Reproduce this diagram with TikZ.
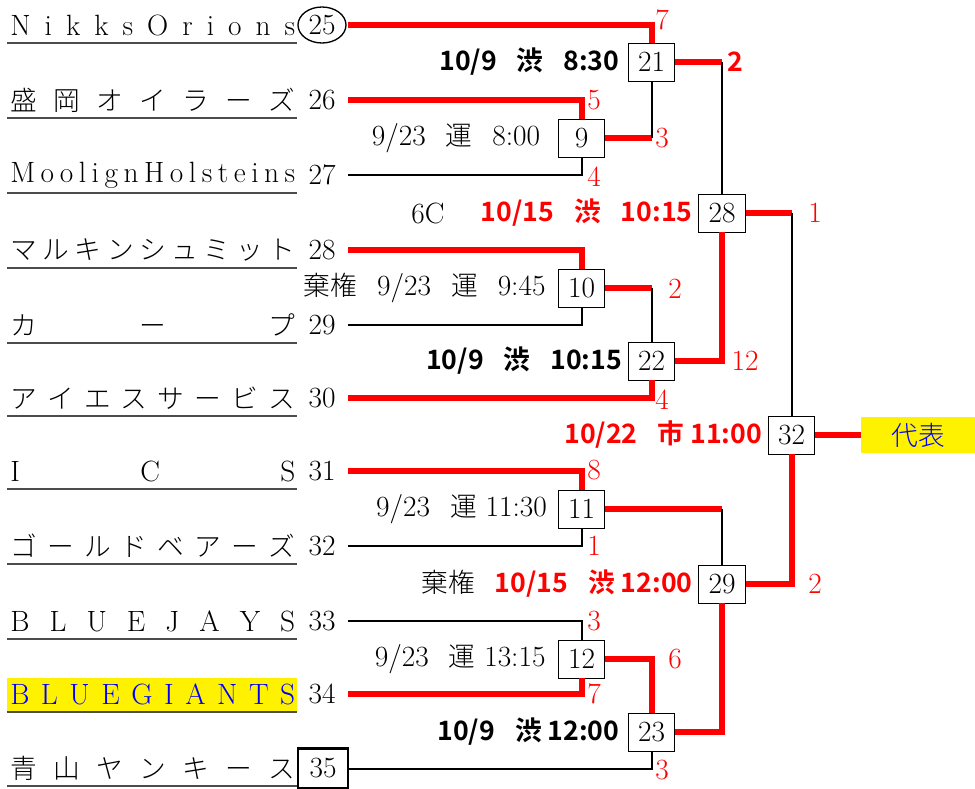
\documentclass[tikz,border=0pt]{standalone}
\usepackage{fontspec}
\newfontfamily\jp{Noto Sans CJK JP}[UprightFont={* Light},BoldFont={* Bold},Scale=0.91]
\usetikzlibrary{positioning}
% letters of a name spread over the whole width
\def\spreadchars#1{\spreadA#1\endspread}
\def\spreadA#1#2\endspread{#1\ifx\relax#2\relax\else\hfill\spreadA#2\endspread\fi}
\newcommand{\gap}{\hspace{15pt}}
\newcommand{\bigsz}{\fontsize{22}{26}\selectfont}
\tikzset{
  win/.style={red,line width=4.5pt},
  lose/.style={black,line width=1.5pt},
  uline/.style={black!70,line width=1pt},
  match/.style={draw,line width=0.6pt,fill=white,minimum width=35pt,minimum height=28.5pt,inner sep=0pt},
  num/.style={minimum width=39pt,inner sep=0pt},
  team/.style={anchor=west,inner sep=0pt},
  score/.style={text=red,inner sep=1pt},
  lbl/.style={inner sep=1pt},
  bold/.style={lbl,font=\jp\bfseries\bigsz},
  hot/.style={bold,text=red},
}
\begin{document}
\begin{tikzpicture}[x=0.75pt,y=-0.75pt,font=\bigsz]
        \useasboundingbox (0,0) rectangle (975,789);
        \fill[yellow] (7,678) rectangle (297,712);
        % teams
        \foreach \n/\y/\f/\nm in {25/25/\relax/NikksOrions,26/100/\jp/盛岡オイラーズ,
            27/175/\relax/MoolignHolsteins,28/250/\jp/マルキンシュミット,29/325/\jp/カープ,
            30/398/\jp/アイエスサービス,31/471/\relax/ICS,32/546/\jp/ゴールドベアーズ,
            33/621/\relax/BLUEJAYS,34/694/\color{blue}/BLUEGIANTS,35/768/\jp/青山ヤンキース}{
          \node[team] (t\n) at (10,\y) {\f\makebox[213.75pt][s]{\expandafter\spreadchars\expandafter{\nm}}};
          \draw[uline] (7,\y+18) -- (297,\y+18);
        }
        \foreach \n/\y in {25/25,26/100,27/175,28/250,29/325,30/398,31/471,32/546,33/621,34/694}
          \node[num] (n\n) at (322,\y) {\n};
        \node[num,draw,line width=2.2pt,minimum width=37.5pt,minimum height=30pt] (n35) at (323,768.5) {35};
        \draw[line width=1pt] (n25) ellipse (18pt and 13.5pt);
        % matches
        \node[match] (m21) at (651.5,62) {21};
        \node[match] (m9) at (581.5,138) {9};
        \node[match] (m28) at (722,213) {28};
        \node[match] (m10) at (581.5,288) {10};
        \node[match] (m22) at (651.5,361) {22};
        \node[match] (m32) at (791.5,435) {32};
        \node[match] (m11) at (581.5,509) {11};
        \node[match] (m29) at (722,584) {29};
        \node[match] (m12) at (581.5,659) {12};
        \node[match] (m23) at (651.5,732) {23};
        \node[fill=yellow,text=blue,font=\jp\bigsz,minimum width=85.5pt,minimum height=27pt,inner sep=0pt] (rep) at (918,435) {代表};
        % dates
        \node[bold,left=5pt of m21] (d21) {10/9\gap 渋\gap 8:30};
        \node[lbl,left=12pt of m9] (d9) {9/23\gap{\jp 運}\gap 8:00};
        \node[hot,left=3pt of m28] (d28) {10/15\gap 渋\gap 10:15};
        \node (c6) at (428,213) {6C};
        \node[lbl,left=8pt of m10] (d10) {{\jp 棄権}\gap 9/23\gap{\jp 運}\gap 9:45};
        \node[bold,left=3pt of m22] (d22) {10/9\gap 渋\gap 10:15};
        \node[hot,left=3pt of m32] (d32) {10/22\gap 市 11:00};
        \node[lbl,left=7pt of m11] (d11) {9/23\gap{\jp 運} 11:30};
        \node[lbl,left=3pt of m29] (d29) {{\jp 棄権}\gap{\color{red}\jp\bfseries 10/15\gap 渋 12:00}};
        \node[lbl,left=8pt of m12] (d12) {9/23\gap{\jp 運} 13:15};
        \node[bold,left=5pt of m23] (d23) {10/9\gap 渋 12:00};
        % lines
        \draw[win] (n25) -| (m21);
        \draw[win] (n26) -| (m9);
        \draw[lose] (n27) -| (m9);
        \coordinate (j9) at (m21 |- m9);
        \draw[win] (m9) -- (j9);
        \draw[lose] (j9) -- (m21);
        \coordinate (j21) at (m28 |- m21);
        \draw[win] (m21) -- (j21);
        \draw[lose] (j21) -- (m28);
        \draw[win] (n28) -| (m10);
        \draw[lose] (n29) -| (m10);
        \coordinate (j10) at (m22 |- m10);
        \draw[win] (m10) -- (j10);
        \draw[lose] (j10) -- (m22);
        \draw[win] (n30) -| (m22);
        \draw[win] (m22) -| (m28);
        \coordinate (j28) at (m32 |- m28);
        \draw[win] (m28) -- (j28);
        \draw[lose] (j28) -- (m32);
        \draw[win] (m32) -- (rep);
        \draw[win] (n31) -| (m11);
        \draw[lose] (n32) -| (m11);
        \coordinate (j11) at (m29 |- m11);
        \draw[win] (m11) -- (j11);
        \draw[lose] (j11) -- (m29);
        \draw[lose] (n33) -| (m12);
        \draw[win] (n34) -| (m12);
        \draw[win] (m12) -| (m23);
        \draw[lose] (n35) -| (m23);
        \draw[win] (m23) -| (m29);
        \draw[win] (m29) -| (m32);
        % scores
        \node[score] (s25) at (662,20) {7};
        \node[score] (s26) at (594,100) {5};
        \node[score] (s27) at (594,177) {4};
        \node[score] (s9) at (662,138) {3};
        \node[score,font=\jp\bfseries\bigsz] (s21) at (735,62) {2};
        \node[score] (s28) at (815,213) {1};
        \node[score] (s10) at (675,289) {2};
        \node[score] (s22) at (745,361) {12};
        \node[score] (s30) at (662,400) {4};
        \node[score] (s31) at (594,470) {8};
        \node[score] (s32) at (594,546) {1};
        \node[score] (s29) at (815,584) {2};
        \node[score] (s33) at (594,621) {3};
        \node[score] (s12) at (675,659) {6};
        \node[score] (s34) at (594,694) {7};
        \node[score] (s35) at (662,770) {3};
\end{tikzpicture}
\end{document}
